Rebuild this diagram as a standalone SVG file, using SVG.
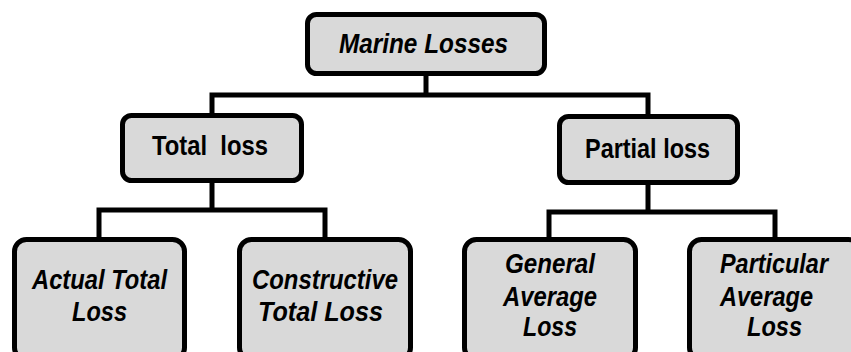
<svg xmlns="http://www.w3.org/2000/svg" width="851" height="352" viewBox="0 0 851 352">
  <style>
    .box { fill: #d9d9d9; stroke: #000; stroke-width: 5; }
    .wire { fill: none; stroke: #000; stroke-width: 5; stroke-linecap: square; }
    .lbl { font-family: "Liberation Sans Narrow", "Liberation Sans", Arial, sans-serif; font-weight: bold; font-size: 28px; fill: #000; text-anchor: middle; }
    .it { font-style: italic; }
  </style>
  <rect width="851" height="352" fill="#fff"/>

  <!-- connectors -->
  <g id="connectors">
    <path class="wire" d="M426,76 V95 M212,95 H648 M212,95 V112 M648,95 V113"/>
    <path class="wire" d="M212,184 V210 M99,210 H325 M99,210 V236 M325,210 V236"/>
    <path class="wire" d="M648,186 V212 M549,212 H775 M549,212 V236 M775,212 V236"/>
  </g>

  <g id="marine-losses">
    <rect class="box" x="307.5" y="14.5" width="237" height="59" rx="9"/>
    <text class="lbl it" x="423.5" y="53" textLength="169" lengthAdjust="spacingAndGlyphs">Marine Losses</text>
  </g>

  <g id="total-loss">
    <rect class="box" x="122.5" y="115.5" width="179" height="65" rx="9"/>
    <text class="lbl" x="210" y="155" textLength="116" lengthAdjust="spacingAndGlyphs" xml:space="preserve">Total  loss</text>
  </g>

  <g id="partial-loss">
    <rect class="box" x="559.5" y="116.5" width="178" height="66" rx="9"/>
    <text class="lbl" x="647.5" y="158" textLength="125" lengthAdjust="spacingAndGlyphs">Partial loss</text>
  </g>

  <g id="actual-total-loss">
    <rect class="box" x="14.5" y="239.5" width="170" height="120" rx="12"/>
    <text class="lbl it" x="99.5" y="289" textLength="135" lengthAdjust="spacingAndGlyphs">Actual Total</text>
    <text class="lbl it" x="99.5" y="321" textLength="55" lengthAdjust="spacingAndGlyphs">Loss</text>
  </g>

  <g id="constructive-total-loss">
    <rect class="box" x="239.5" y="239.5" width="171" height="120" rx="12"/>
    <text class="lbl it" x="325" y="289" textLength="146" lengthAdjust="spacingAndGlyphs">Constructive</text>
    <text class="lbl it" x="320.5" y="321" textLength="125" lengthAdjust="spacingAndGlyphs">Total Loss</text>
  </g>

  <g id="general-average-loss">
    <rect class="box" x="464.5" y="239.5" width="171" height="120" rx="12"/>
    <text class="lbl it" x="550" y="273" textLength="90" lengthAdjust="spacingAndGlyphs">General</text>
    <text class="lbl it" x="550" y="306" textLength="94" lengthAdjust="spacingAndGlyphs">Average</text>
    <text class="lbl it" x="550" y="336" textLength="54" lengthAdjust="spacingAndGlyphs">Loss</text>
  </g>

  <g id="particular-average-loss">
    <rect class="box" x="689.5" y="239.5" width="171" height="120" rx="12"/>
    <text class="lbl it" x="774" y="273" textLength="108" lengthAdjust="spacingAndGlyphs">Particular</text>
    <text class="lbl it" x="766.5" y="306" textLength="93" lengthAdjust="spacingAndGlyphs">Average</text>
    <text class="lbl it" x="774.5" y="336" textLength="55" lengthAdjust="spacingAndGlyphs">Loss</text>
  </g>
</svg>
